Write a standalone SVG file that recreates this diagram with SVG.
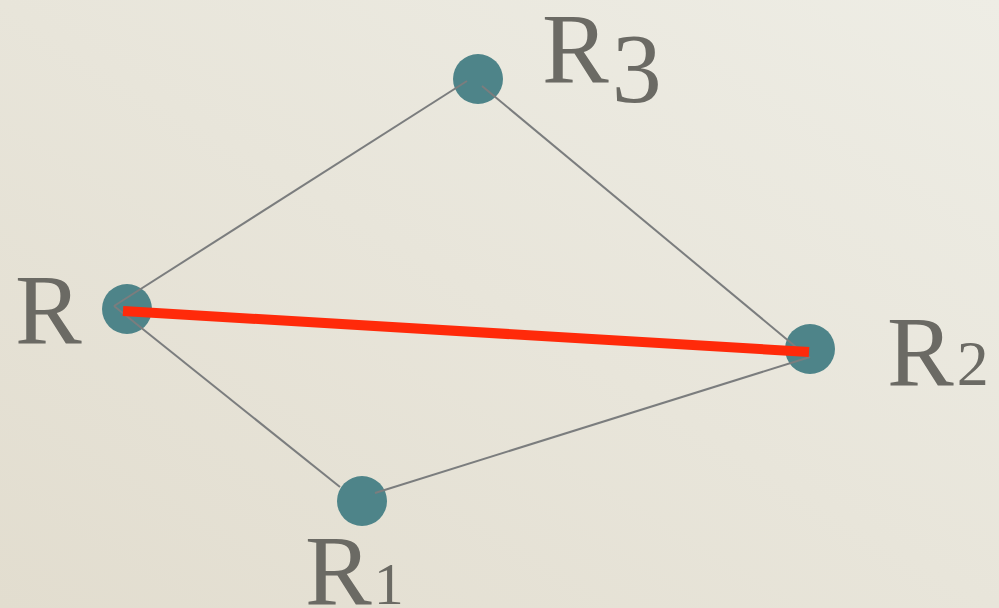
<svg xmlns="http://www.w3.org/2000/svg" width="999" height="608" viewBox="0 0 999 608">
  <defs>
    <linearGradient id="bg" x1="0" y1="1" x2="1" y2="0">
      <stop offset="0" stop-color="#e2ddcf"/>
      <stop offset="1" stop-color="#eeede5"/>
    </linearGradient>
  </defs>
  <style>
    .edge { stroke: #7b7d7e; stroke-width: 2; fill: none; }
    .hot { stroke: #ff2a0a; stroke-width: 10; fill: none; }
    .node { fill: #4e8489; }
    .lbl { fill: #6b6a64; font-family: "Liberation Serif", "Times New Roman", serif; font-size: 100px; }
  </style>
  <rect x="0" y="0" width="999" height="608" fill="url(#bg)"/>
  <g id="nodes">
    <g id="node-R"><circle class="node" cx="127" cy="309" r="25"/></g>
    <g id="node-R1"><circle class="node" cx="362" cy="501" r="25"/></g>
    <g id="node-R2"><circle class="node" cx="810" cy="349" r="25"/></g>
    <g id="node-R3"><circle class="node" cx="478" cy="79" r="25"/></g>
  </g>
  <g id="connectors">
    <line class="edge" x1="114" y1="306" x2="467" y2="81"/>
    <line class="edge" x1="482" y1="86" x2="808" y2="357"/>
    <line class="edge" x1="114" y1="306" x2="340" y2="487"/>
    <line class="edge" x1="375" y1="493" x2="810" y2="357"/>
    <line class="hot" x1="123" y1="311" x2="809" y2="352"/>
  </g>
  <g id="labels">
    <g id="label-R"><text class="lbl" x="15" y="343">R</text></g>
    <g id="label-R3"><text class="lbl" x="542" y="82">R<tspan dx="3" dy="20">3</tspan></text></g>
    <g id="label-R2"><text class="lbl" x="887" y="385">R<tspan dx="3" font-size="64">2</tspan></text></g>
    <g id="label-R1"><text class="lbl" x="305" y="604">R<tspan dx="2" font-size="60">1</tspan></text></g>
  </g>
</svg>
